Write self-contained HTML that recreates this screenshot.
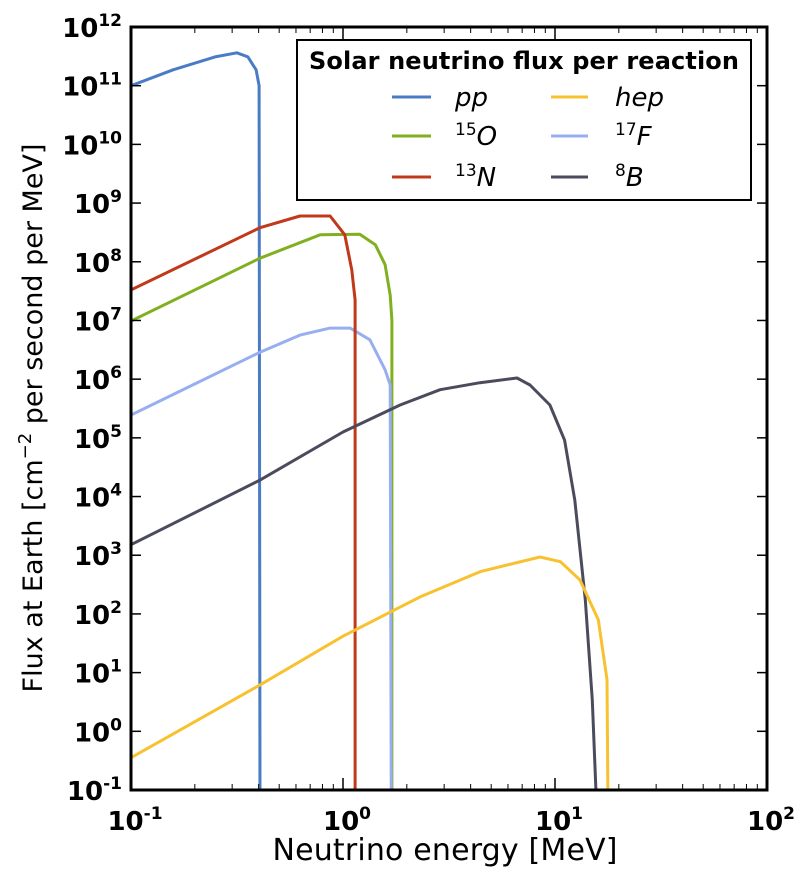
<!DOCTYPE html>
<html><head><meta charset="utf-8"><style>
html,body{margin:0;padding:0;background:#fff;}
svg{display:block;font-family:"DejaVu Sans","Liberation Sans",sans-serif;}
.tick{font-weight:bold;font-size:26px;fill:#000;}
.sup{font-size:17px;}
</style></head><body>
<svg id="chart" width="800" height="876" viewBox="0 0 800 876" xmlns="http://www.w3.org/2000/svg">
<defs><clipPath id="plotclip"><rect x="131" y="27" width="636" height="763"/></clipPath></defs>
<rect x="0" y="0" width="800" height="876" fill="#fff"/>
<g id="series" clip-path="url(#plotclip)"></g>
<g id="axes"></g>
<rect x="131" y="27" width="636" height="763" fill="none" stroke="#000" stroke-width="3"/>
<text x="445" y="860" text-anchor="middle" font-size="30" textLength="345">Neutrino energy [MeV]</text>
<text transform="translate(42,418) rotate(-90)" text-anchor="middle" font-size="27">Flux at Earth [cm<tspan dy="-11" font-size="18">−2</tspan><tspan dy="11"> per second per MeV]</tspan></text>
<g>
<rect x="297" y="40" width="454" height="160" fill="#fff" stroke="#000" stroke-width="2"/>
<text x="524" y="69" text-anchor="middle" font-size="24" font-weight="bold" textLength="430">Solar neutrino flux per reaction</text>
<g><line x1="392" y1="97" x2="431" y2="97" stroke="#4a7cc6" stroke-width="3"/><text x="455" y="106" font-size="26" font-style="italic">pp</text></g>
<g><line x1="392" y1="136" x2="431" y2="136" stroke="#80b020" stroke-width="3"/><text x="455" y="145" font-size="26" font-style="italic"><tspan font-style="normal" font-size="17" dy="-10">15</tspan><tspan dy="10">O</tspan></text></g>
<g><line x1="392" y1="177" x2="431" y2="177" stroke="#c0391b" stroke-width="3"/><text x="455" y="186" font-size="26" font-style="italic"><tspan font-style="normal" font-size="17" dy="-10">13</tspan><tspan dy="10">N</tspan></text></g>
<g><line x1="551" y1="97" x2="588" y2="97" stroke="#f8c130" stroke-width="3"/><text x="615" y="106" font-size="26" font-style="italic">hep</text></g>
<g><line x1="551" y1="136" x2="588" y2="136" stroke="#97aef0" stroke-width="3"/><text x="615" y="145" font-size="26" font-style="italic"><tspan font-style="normal" font-size="17" dy="-10">17</tspan><tspan dy="10">F</tspan></text></g>
<g><line x1="551" y1="177" x2="588" y2="177" stroke="#4b4b5e" stroke-width="3"/><text x="615" y="186" font-size="26" font-style="italic"><tspan font-style="normal" font-size="17" dy="-10">8</tspan><tspan dy="10">B</tspan></text></g>
</g>
</svg>
<script>
const xDecades = [-1, 0, 1, 2];
const yDecades = [-1,0,1,2,3,4,5,6,7,8,9,10,11,12];
const ppE = [0.1,0.158,0.249,0.316,0.356,0.389,0.402,0.406];
const ppLogF = [11.0,11.27,11.49,11.56,11.49,11.27,11.0,-1.5];
const n13E = [0.1,0.406,0.627,0.869,1.02,1.10,1.14,1.14];
const n13LogF = [7.52,8.58,8.78,8.78,8.46,7.86,7.35,-1.5];
const o15E = [0.1,0.406,0.78,1.20,1.42,1.58,1.67,1.70,1.70];
const o15LogF = [6.99,8.06,8.46,8.47,8.29,7.95,7.43,7.0,-1.5];
const f17E = [0.1,0.406,0.627,0.869,1.08,1.34,1.58,1.67,1.69];
const f17LogF = [5.39,6.46,6.75,6.87,6.87,6.67,6.16,5.90,-1.5];
const b8E = [0.1,0.406,1.0,1.86,2.87,4.43,6.62,7.62,9.46,11.1,12.4,13.9,15.0,15.8];
const b8LogF = [3.18,4.28,5.1,5.56,5.82,5.94,6.02,5.90,5.56,4.96,3.94,2.24,0.53,-1.5];
const hepE = [0.1,0.406,1.0,2.31,4.43,8.5,10.6,13.1,16.0,17.6,17.8];
const hepLogF = [-0.45,0.79,1.62,2.29,2.72,2.97,2.89,2.58,1.90,0.88,-1.5];

const X0=131,X1=767,Y0=790,Y1=27;
function xs(e){return X0+(Math.log10(e)+1)/3*(X1-X0);}
function ys(lf){return Y0-(lf+1)/13*(Y0-Y1);}
const NS="http://www.w3.org/2000/svg";
const series=document.getElementById('series');
function draw(E,L,color,name){
  const p=document.createElementNS(NS,'polyline');
  p.setAttribute('points',E.map((e,i)=>xs(e).toFixed(1)+','+ys(L[i]).toFixed(1)).join(' '));
  p.setAttribute('fill','none');p.setAttribute('stroke',color);p.setAttribute('stroke-width','3');
  p.setAttribute('stroke-linejoin','round');
  
  
  series.appendChild(p);
}
draw(ppE,ppLogF,'#4a7cc6','line-pp');
draw(o15E,o15LogF,'#80b020','line-o15');
draw(f17E,f17LogF,'#97aef0','line-f17');
draw(n13E,n13LogF,'#c0391b','line-n13');
draw(b8E,b8LogF,'#4b4b5e','line-b8');
draw(hepE,hepLogF,'#f8c130','line-hep');

const axes=document.getElementById('axes');
function ln(x1,y1,x2,y2,w){const l=document.createElementNS(NS,'line');l.setAttribute('x1',x1);l.setAttribute('y1',y1);l.setAttribute('x2',x2);l.setAttribute('y2',y2);l.setAttribute('stroke','#000');l.setAttribute('stroke-width',w);axes.appendChild(l);return l;}
function lbl(x,y,exp,anchor){
  const t=document.createElementNS(NS,'text');t.setAttribute('x',x);t.setAttribute('y',y);t.setAttribute('class','tick');t.setAttribute('text-anchor',anchor);
  t.innerHTML='10<tspan class="sup" dy="-11">'+exp+'</tspan>';
  
  
  axes.appendChild(t);
}
xDecades.forEach(d=>{
  const x=xs(Math.pow(10,d));
  ln(x,Y0,x,Y0-12,1.5);ln(x,Y1,x,Y1+12,1.5);
  lbl(x+4,830,d,'middle');
  if(d<2){for(let k=2;k<10;k++){const xm=xs(k*Math.pow(10,d));ln(xm,Y0,xm,Y0-6,1);ln(xm,Y1,xm,Y1+6,1);}}
});
yDecades.forEach(d=>{
  const y=ys(d);
  ln(X0,y,X0+10,y,1.5);ln(X1,y,X1-10,y,1.5);
  lbl(122,y+10,d,'end');
});
</script>
</body></html>
